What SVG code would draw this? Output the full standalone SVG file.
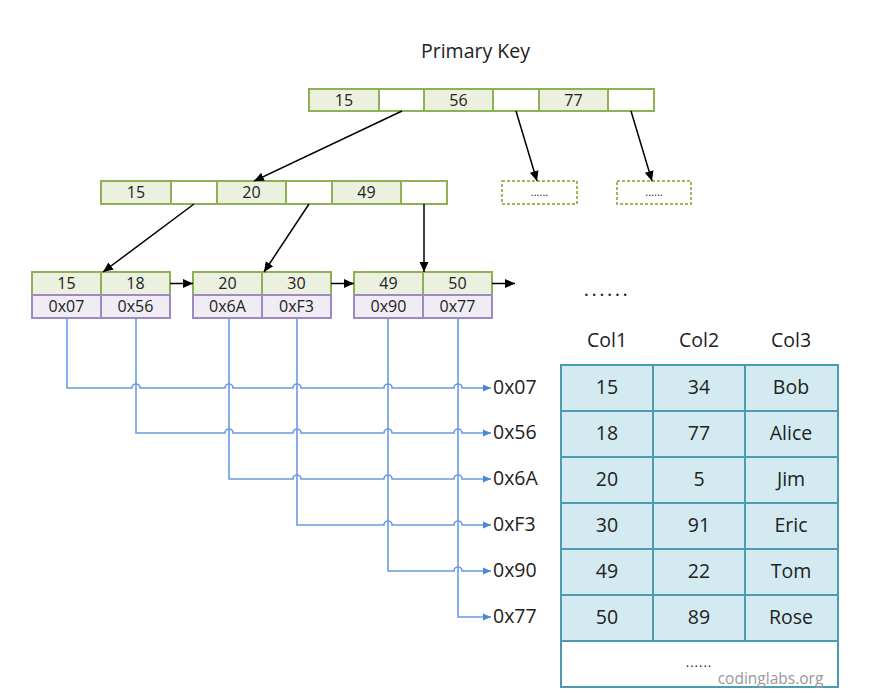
<svg xmlns="http://www.w3.org/2000/svg" width="896" height="693" viewBox="0 0 896 693">
<style>
text{font-family:"Open Sans","Noto Sans","Liberation Sans",sans-serif;fill:#222;text-anchor:middle}
.k{fill:#ebf1de;stroke:#8db255;stroke-width:2}
.e{fill:#fff;stroke:#8db255;stroke-width:2}
.p{fill:#efecf4;stroke:#a088c4;stroke-width:2}
.d{fill:#fff;stroke:#9bbb59;stroke-width:2;stroke-dasharray:3 2}
.t{fill:#d3eaf0;stroke:#4b9cb0;stroke-width:2}
.w{fill:#fff;stroke:#4b9cb0;stroke-width:2}
.n{font-size:16px}
.big{font-size:19.5px}
.bl{fill:none;stroke:#000;stroke-width:1.5}
.bu{fill:none;stroke:#6a9be0;stroke-width:1.6}
</style>
<defs>
<marker id="ab" viewBox="0 0 10 10" refX="10" refY="5" markerWidth="10" markerHeight="10" markerUnits="userSpaceOnUse" orient="auto"><path d="M0,0.5 L10,5 L0,9.5 z" fill="#000"/></marker>
<marker id="au" viewBox="0 0 10 10" refX="10" refY="5" markerWidth="8" markerHeight="8" markerUnits="userSpaceOnUse" orient="auto"><path d="M0,0.5 L10,5 L0,9.5 z" fill="#4a86d8"/></marker>
</defs>
<rect width="896" height="693" fill="#fff"/>

<text id="title" x="475.5" y="58" style="font-size:19.5px">Primary Key</text>

<g id="root">
<rect class="k" x="309" y="89" width="70" height="22"/>
<rect class="e" x="379" y="89" width="45" height="22"/>
<rect class="k" x="424" y="89" width="69" height="22"/>
<rect class="e" x="493" y="89" width="46" height="22"/>
<rect class="k" x="539" y="89" width="69" height="22"/>
<rect class="e" x="608" y="89" width="46" height="22"/>
<text class="n" x="344" y="105.5">15</text>
<text class="n" x="458.5" y="105.5">56</text>
<text class="n" x="573.5" y="105.5">77</text>
</g>

<g id="level2">
<rect class="k" x="101" y="181" width="70" height="23"/>
<rect class="e" x="171" y="181" width="46" height="23"/>
<rect class="k" x="217" y="181" width="69" height="23"/>
<rect class="e" x="286" y="181" width="46" height="23"/>
<rect class="k" x="332" y="181" width="69" height="23"/>
<rect class="e" x="401" y="181" width="46" height="23"/>
<text class="n" x="136" y="198">15</text>
<text class="n" x="251.5" y="198">20</text>
<text class="n" x="366.5" y="198">49</text>
</g>

<g id="more1">
<rect class="d" x="502" y="181" width="75" height="23"/>
<text x="539.5" y="196" style="font-size:11px">......</text>
</g>
<g id="more2">
<rect class="d" x="617" y="181" width="74" height="23"/>
<text x="654" y="196" style="font-size:11px">......</text>
</g>

<g id="leaf1">
<rect class="k" x="32" y="272" width="69" height="23"/>
<rect class="k" x="101" y="272" width="69" height="23"/>
<rect class="p" x="32" y="295" width="69" height="23"/>
<rect class="p" x="101" y="295" width="69" height="23"/>
<text class="n" x="66.5" y="289">15</text>
<text class="n" x="135.5" y="289">18</text>
<text class="n" x="66.5" y="312">0x07</text>
<text class="n" x="135.5" y="312">0x56</text>
</g>
<g id="leaf2">
<rect class="k" x="193" y="272" width="69" height="23"/>
<rect class="k" x="262" y="272" width="69" height="23"/>
<rect class="p" x="193" y="295" width="69" height="23"/>
<rect class="p" x="262" y="295" width="69" height="23"/>
<text class="n" x="227.5" y="289">20</text>
<text class="n" x="296.5" y="289">30</text>
<text class="n" x="227.5" y="312">0x6A</text>
<text class="n" x="296.5" y="312">0xF3</text>
</g>
<g id="leaf3">
<rect class="k" x="354" y="272" width="69" height="23"/>
<rect class="k" x="423" y="272" width="69" height="23"/>
<rect class="p" x="354" y="295" width="69" height="23"/>
<rect class="p" x="423" y="295" width="69" height="23"/>
<text class="n" x="388.5" y="289">49</text>
<text class="n" x="457.5" y="289">50</text>
<text class="n" x="388.5" y="312">0x90</text>
<text class="n" x="457.5" y="312">0x77</text>
</g>
<text id="leafmore" x="607" y="296" style="font-size:20px;letter-spacing:2.5px">......</text>

<g id="connectors">
<line class="bl" x1="402" y1="111" x2="254" y2="181" marker-end="url(#ab)"/>
<line class="bl" x1="516" y1="111" x2="537" y2="181" marker-end="url(#ab)"/>
<line class="bl" x1="631" y1="111" x2="652" y2="181" marker-end="url(#ab)"/>
<line class="bl" x1="194" y1="204" x2="103" y2="272" marker-end="url(#ab)"/>
<line class="bl" x1="309" y1="204" x2="264" y2="272" marker-end="url(#ab)"/>
<line class="bl" x1="424" y1="204" x2="424" y2="272" marker-end="url(#ab)"/>
<line class="bl" x1="170" y1="283.5" x2="193" y2="283.5" marker-end="url(#ab)"/>
<line class="bl" x1="331" y1="283.5" x2="354" y2="283.5" marker-end="url(#ab)"/>
<line class="bl" x1="492" y1="283.5" x2="515" y2="283.5" marker-end="url(#ab)"/>

<path class="bu" marker-end="url(#au)" d="M67,318 V388 H132 A4,4 0 0 1 140,388 H225 A4,4 0 0 1 233,388 H293 A4,4 0 0 1 301,388 H384 A4,4 0 0 1 392,388 H454 A4,4 0 0 1 462,388 H491"/>
<path class="bu" marker-end="url(#au)" d="M136,318 V433 H225 A4,4 0 0 1 233,433 H293 A4,4 0 0 1 301,433 H384 A4,4 0 0 1 392,433 H454 A4,4 0 0 1 462,433 H491"/>
<path class="bu" marker-end="url(#au)" d="M229,318 V479 H293 A4,4 0 0 1 301,479 H384 A4,4 0 0 1 392,479 H454 A4,4 0 0 1 462,479 H491"/>
<path class="bu" marker-end="url(#au)" d="M297,318 V525 H384 A4,4 0 0 1 392,525 H454 A4,4 0 0 1 462,525 H491"/>
<path class="bu" marker-end="url(#au)" d="M388,318 V571 H454 A4,4 0 0 1 462,571 H491"/>
<path class="bu" marker-end="url(#au)" d="M458,318 V617 H491"/>
</g>

<g id="addresses">
<text class="big" x="493" y="394" style="text-anchor:start">0x07</text>
<text class="big" x="493" y="439" style="text-anchor:start">0x56</text>
<text class="big" x="493" y="485" style="text-anchor:start">0x6A</text>
<text class="big" x="493" y="531" style="text-anchor:start">0xF3</text>
<text class="big" x="493" y="577" style="text-anchor:start">0x90</text>
<text class="big" x="493" y="623" style="text-anchor:start">0x77</text>
</g>

<g id="table">
<text class="big" x="607" y="347">Col1</text>
<text class="big" x="699" y="347">Col2</text>
<text class="big" x="791" y="347">Col3</text>
<rect class="t" x="561" y="365" width="92" height="46"/><rect class="t" x="653" y="365" width="92" height="46"/><rect class="t" x="745" y="365" width="93" height="46"/>
<rect class="t" x="561" y="411" width="92" height="46"/><rect class="t" x="653" y="411" width="92" height="46"/><rect class="t" x="745" y="411" width="93" height="46"/>
<rect class="t" x="561" y="457" width="92" height="46"/><rect class="t" x="653" y="457" width="92" height="46"/><rect class="t" x="745" y="457" width="93" height="46"/>
<rect class="t" x="561" y="503" width="92" height="46"/><rect class="t" x="653" y="503" width="92" height="46"/><rect class="t" x="745" y="503" width="93" height="46"/>
<rect class="t" x="561" y="549" width="92" height="46"/><rect class="t" x="653" y="549" width="92" height="46"/><rect class="t" x="745" y="549" width="93" height="46"/>
<rect class="t" x="561" y="595" width="92" height="46"/><rect class="t" x="653" y="595" width="92" height="46"/><rect class="t" x="745" y="595" width="93" height="46"/>
<rect class="w" x="561" y="641" width="277" height="46"/>
<text class="big" x="607" y="393.5">15</text><text class="big" x="699" y="393.5">34</text><text class="big" x="791" y="393.5">Bob</text>
<text class="big" x="607" y="439.5">18</text><text class="big" x="699" y="439.5">77</text><text class="big" x="791" y="439.5">Alice</text>
<text class="big" x="607" y="485.5">20</text><text class="big" x="699" y="485.5">5</text><text class="big" x="791" y="485.5">Jim</text>
<text class="big" x="607" y="531.5">30</text><text class="big" x="699" y="531.5">91</text><text class="big" x="791" y="531.5">Eric</text>
<text class="big" x="607" y="577.5">49</text><text class="big" x="699" y="577.5">22</text><text class="big" x="791" y="577.5">Tom</text>
<text class="big" x="607" y="623.5">50</text><text class="big" x="699" y="623.5">89</text><text class="big" x="791" y="623.5">Rose</text>
<text x="699" y="667" style="font-size:13px;letter-spacing:1px">......</text>
<text x="770.5" y="684" style="font-size:15.5px;fill:#999">codinglabs.org</text>
</g>
</svg>
